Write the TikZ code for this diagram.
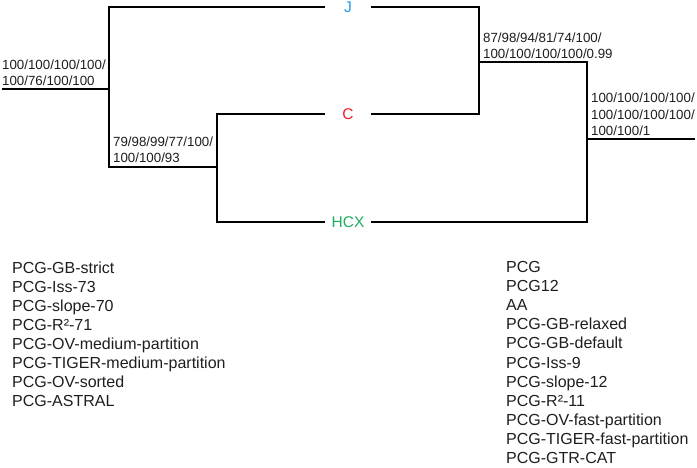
\documentclass[tikz,border=0pt]{standalone}
\usepackage{fontspec}
\setmainfont{Liberation Sans}
\definecolor{jblue}{RGB}{30,150,240}
\definecolor{cred}{RGB}{235,30,35}
\definecolor{hgreen}{RGB}{30,170,95}
\definecolor{txt}{RGB}{30,30,30}
\begin{document}
\begin{tikzpicture}[x=1pt,y=-1pt,
  branch/.style={line width=2.9pt,black},
  taxon/.style={inner sep=0pt,minimum width=46pt,font=\fontsize{15.5}{18}\selectfont},
  support/.style={inner sep=0pt,anchor=south west,align=left,text=txt,font=\fontsize{13.3}{16.5}\selectfont},
  listing/.style={inner sep=0pt,anchor=north west,align=left,text=txt,font=\fontsize{16}{19.1}\selectfont}]
\useasboundingbox (0,0) rectangle (697,467);
\node[taxon,text=jblue] (J) at (348,7) {J};
\node[taxon,text=cred] (C) at (348,114) {C};
\node[taxon,text=hgreen] (H) at (348,222) {HCX};
\coordinate (L0) at (2,89);
\coordinate (L1) at (109,89);
\coordinate (L2) at (217,167);
\coordinate (R2) at (479,62);
\coordinate (R1) at (587,139);
\coordinate (R0) at (695,139);
\draw[branch] (L0) -- (L1);
\draw[branch] (J.west) -| (L1 |- L2) -- (L2);
\draw[branch] (C.west) -| (L2) |- (H.west);
\draw[branch] (J.east) -| (R2) |- (C.east);
\draw[branch] (R2) -| (R1) |- (H.east);
\draw[branch] (R1) -- (R0);
\node[support] (s1) at (2,86) {100/100/100/100/\\100/76/100/100};
\node[support] (s2) at (113,163) {79/98/99/77/100/\\100/100/93};
\node[support] (s3) at (483,59) {87/98/94/81/74/100/\\100/100/100/100/0.99};
\node[support] (s4) at (591,136) {100/100/100/100/\\100/100/100/100/\\100/100/1};
\node[listing] (la) at (12,261.2) {PCG-GB-strict\\PCG-Iss-73\\PCG-slope-70\\PCG-R²-71\\PCG-OV-medium-partition\\PCG-TIGER-medium-partition\\PCG-OV-sorted\\PCG-ASTRAL};
\node[listing] (lb) at (506,261.2) {PCG\\PCG12\\AA\\PCG-GB-relaxed\\PCG-GB-default\\PCG-Iss-9\\PCG-slope-12\\PCG-R²-11\\PCG-OV-fast-partition\\PCG-TIGER-fast-partition\\PCG-GTR-CAT};
\end{tikzpicture}
\end{document}
